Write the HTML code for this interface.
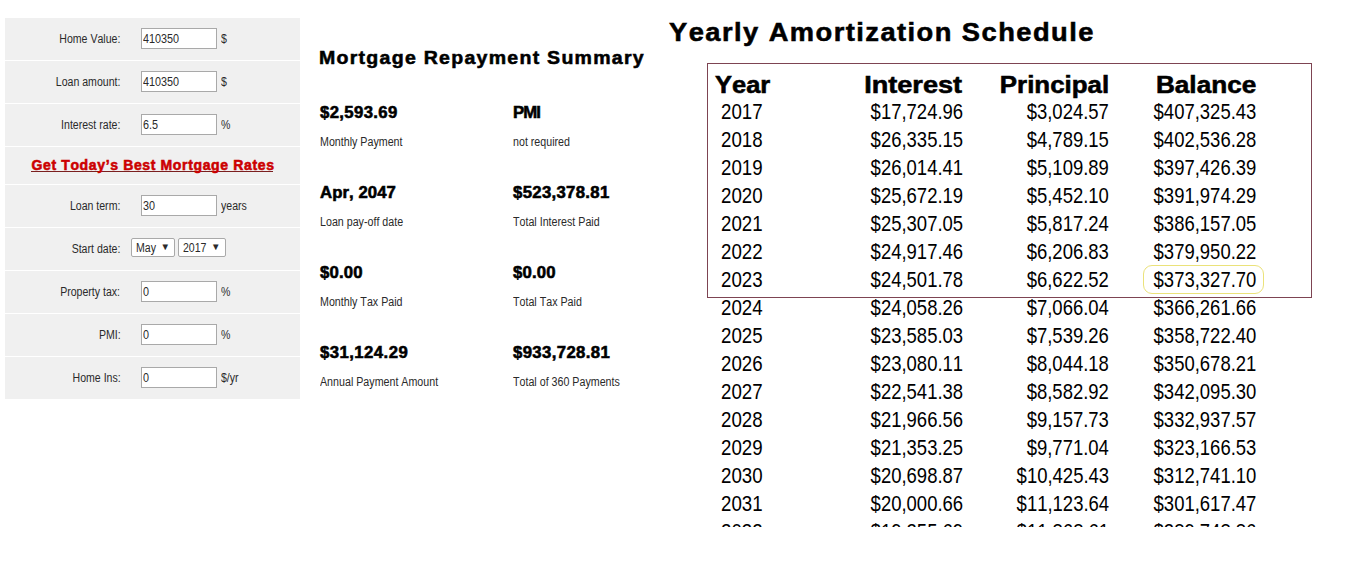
<!DOCTYPE html>
<html><head><meta charset="utf-8"><style>
html,body{margin:0;padding:0;background:#fff;width:1354px;height:564px;overflow:hidden;position:relative}
body{font-family:"Liberation Sans",sans-serif}
.t{position:absolute;white-space:nowrap;font-kerning:none;font-feature-settings:'kern' 0}
.b{-webkit-text-stroke:0.55px currentColor}
.panel{position:absolute;left:5px;top:18px;width:295px;height:381px;background:#f0f0f0}
.sep{position:absolute;left:5px;width:295px;height:1px;background:#fff}
.inp{position:absolute;left:141px;width:74px;height:19px;border:1px solid #a9a9a9;background:#fff}
.sel{position:absolute;height:17px;border:1px solid #a9a9a9;background:#fff;box-sizing:content-box;border-radius:2px}
.ul{position:absolute;height:1px;background:#7a1f1f}
.box{position:absolute;left:707px;top:63px;width:603px;height:233px;border:1px solid #7d4452}
.hl{position:absolute;left:1143px;top:265px;width:119px;height:27px;border:1px solid #ebe27a;border-radius:9px}
.clip{position:absolute;left:0;top:0;width:1354px;height:526px;overflow:hidden}
</style></head><body>
<div class="panel"></div><div class="sep" style="top:60px"></div><div class="sep" style="top:103px"></div><div class="sep" style="top:146px"></div><div class="sep" style="top:184px"></div><div class="sep" style="top:227px"></div><div class="sep" style="top:270px"></div><div class="sep" style="top:313px"></div><div class="sep" style="top:356px"></div><div class="inp" style="top:28px"></div><div class="inp" style="top:71px"></div><div class="inp" style="top:114px"></div><div class="inp" style="top:195px"></div><div class="inp" style="top:281px"></div><div class="inp" style="top:324px"></div><div class="inp" style="top:367px"></div><div class="sel" style="left:131px;top:238px;width:42px"></div><div class="sel" style="left:178px;top:238px;width:46px"></div><div class="ul" style="left:31px;top:171px;width:242px"></div>
<div class="box"></div>
<div class="hl"></div>
<div class="t" style="top:32.54px;font-size:12px;line-height:12px;color:#2a2a2a;right:1233.72px;transform:scaleX(0.8800);transform-origin:right top;">Home Value:</div>
<div class="t" style="top:32.54px;font-size:12px;line-height:12px;color:#2a2a2a;left:143.20px;transform:scaleX(0.9000);transform-origin:left top;">410350</div>
<div class="t" style="top:32.54px;font-size:12px;line-height:12px;color:#2a2a2a;left:221.00px;transform:scaleX(0.8800);transform-origin:left top;">$</div>
<div class="t" style="top:75.54px;font-size:12px;line-height:12px;color:#2a2a2a;right:1233.71px;transform:scaleX(0.8800);transform-origin:right top;">Loan amount:</div>
<div class="t" style="top:75.54px;font-size:12px;line-height:12px;color:#2a2a2a;left:143.20px;transform:scaleX(0.9000);transform-origin:left top;">410350</div>
<div class="t" style="top:75.54px;font-size:12px;line-height:12px;color:#2a2a2a;left:221.00px;transform:scaleX(0.8800);transform-origin:left top;">$</div>
<div class="t" style="top:118.54px;font-size:12px;line-height:12px;color:#2a2a2a;right:1233.73px;transform:scaleX(0.8800);transform-origin:right top;">Interest rate:</div>
<div class="t" style="top:118.54px;font-size:12px;line-height:12px;color:#2a2a2a;left:143.20px;transform:scaleX(0.9000);transform-origin:left top;">6.5</div>
<div class="t" style="top:118.54px;font-size:12px;line-height:12px;color:#2a2a2a;left:221.00px;transform:scaleX(0.8800);transform-origin:left top;">%</div>
<div class="t" style="top:199.54px;font-size:12px;line-height:12px;color:#2a2a2a;right:1233.73px;transform:scaleX(0.8800);transform-origin:right top;">Loan term:</div>
<div class="t" style="top:199.54px;font-size:12px;line-height:12px;color:#2a2a2a;left:143.20px;transform:scaleX(0.9000);transform-origin:left top;">30</div>
<div class="t" style="top:199.54px;font-size:12px;line-height:12px;color:#2a2a2a;left:221.00px;transform:scaleX(0.8800);transform-origin:left top;">years</div>
<div class="t" style="top:242.54px;font-size:12px;line-height:12px;color:#2a2a2a;right:1233.73px;transform:scaleX(0.8800);transform-origin:right top;">Start date:</div>
<div class="t" style="top:285.54px;font-size:12px;line-height:12px;color:#2a2a2a;right:1233.67px;transform:scaleX(0.8800);transform-origin:right top;">Property tax:</div>
<div class="t" style="top:285.54px;font-size:12px;line-height:12px;color:#2a2a2a;left:143.20px;transform:scaleX(0.9000);transform-origin:left top;">0</div>
<div class="t" style="top:285.54px;font-size:12px;line-height:12px;color:#2a2a2a;left:221.00px;transform:scaleX(0.8800);transform-origin:left top;">%</div>
<div class="t" style="top:328.54px;font-size:12px;line-height:12px;color:#2a2a2a;right:1233.73px;transform:scaleX(0.8800);transform-origin:right top;">PMI:</div>
<div class="t" style="top:328.54px;font-size:12px;line-height:12px;color:#2a2a2a;left:143.20px;transform:scaleX(0.9000);transform-origin:left top;">0</div>
<div class="t" style="top:328.54px;font-size:12px;line-height:12px;color:#2a2a2a;left:221.00px;transform:scaleX(0.8800);transform-origin:left top;">%</div>
<div class="t" style="top:371.54px;font-size:12px;line-height:12px;color:#2a2a2a;right:1233.71px;transform:scaleX(0.8800);transform-origin:right top;">Home Ins:</div>
<div class="t" style="top:371.54px;font-size:12px;line-height:12px;color:#2a2a2a;left:143.20px;transform:scaleX(0.9000);transform-origin:left top;">0</div>
<div class="t" style="top:371.54px;font-size:12px;line-height:12px;color:#2a2a2a;left:221.00px;transform:scaleX(0.8800);transform-origin:left top;">$/yr</div>
<div class="t" style="top:241.54px;font-size:12px;line-height:12px;color:#2a2a2a;left:136.00px;transform:scaleX(0.8800);transform-origin:left top;">May</div>
<div class="t" style="top:241.67px;font-size:9.6px;line-height:9.6px;color:#2a2a2a;left:160.60px;transform:scaleX(1.0000);transform-origin:left top;">▼</div>
<div class="t" style="top:241.54px;font-size:12px;line-height:12px;color:#2a2a2a;left:183.00px;transform:scaleX(0.8800);transform-origin:left top;">2017</div>
<div class="t" style="top:241.67px;font-size:9.6px;line-height:9.6px;color:#2a2a2a;left:210.90px;transform:scaleX(1.0000);transform-origin:left top;">▼</div>
<div class="t b" style="top:157.95px;font-size:14px;line-height:14px;color:#cc0000;font-weight:bold;left:31.45px;transform:scaleX(1.0000);transform-origin:left top;letter-spacing:0.640px;">Get Today’s Best Mortgage Rates</div>
<div class="t b" style="top:48.96px;font-size:18.6px;line-height:18.6px;color:#000;font-weight:bold;left:319.18px;transform:scaleX(1.0500);transform-origin:left top;letter-spacing:1.211px;">Mortgage Repayment Summary</div>
<div class="t b" style="top:104.73px;font-size:15.8px;line-height:15.8px;color:#000;font-weight:bold;left:320.38px;transform:scaleX(1.0600);transform-origin:left top;letter-spacing:0.332px;">$2,593.69</div>
<div class="t" style="top:136.14px;font-size:12px;line-height:12px;color:#2a2a2a;left:319.80px;transform:scaleX(0.8900);transform-origin:left top;">Monthly Payment</div>
<div class="t b" style="top:104.73px;font-size:15.8px;line-height:15.8px;color:#000;font-weight:bold;left:513.38px;transform:scaleX(1.0600);transform-origin:left top;letter-spacing:-0.826px;">PMI</div>
<div class="t" style="top:136.14px;font-size:12px;line-height:12px;color:#2a2a2a;left:512.80px;transform:scaleX(0.8900);transform-origin:left top;">not required</div>
<div class="t b" style="top:184.73px;font-size:15.8px;line-height:15.8px;color:#000;font-weight:bold;left:320.38px;transform:scaleX(1.0600);transform-origin:left top;letter-spacing:0.049px;">Apr, 2047</div>
<div class="t" style="top:216.14px;font-size:12px;line-height:12px;color:#2a2a2a;left:319.80px;transform:scaleX(0.8900);transform-origin:left top;">Loan pay-off date</div>
<div class="t b" style="top:184.73px;font-size:15.8px;line-height:15.8px;color:#000;font-weight:bold;left:513.38px;transform:scaleX(1.0600);transform-origin:left top;letter-spacing:0.298px;">$523,378.81</div>
<div class="t" style="top:216.14px;font-size:12px;line-height:12px;color:#2a2a2a;left:512.80px;transform:scaleX(0.8900);transform-origin:left top;">Total Interest Paid</div>
<div class="t b" style="top:264.73px;font-size:15.8px;line-height:15.8px;color:#000;font-weight:bold;left:320.38px;transform:scaleX(1.0600);transform-origin:left top;letter-spacing:0.157px;">$0.00</div>
<div class="t" style="top:296.14px;font-size:12px;line-height:12px;color:#2a2a2a;left:319.80px;transform:scaleX(0.8900);transform-origin:left top;">Monthly Tax Paid</div>
<div class="t b" style="top:264.73px;font-size:15.8px;line-height:15.8px;color:#000;font-weight:bold;left:513.38px;transform:scaleX(1.0600);transform-origin:left top;letter-spacing:0.157px;">$0.00</div>
<div class="t" style="top:296.14px;font-size:12px;line-height:12px;color:#2a2a2a;left:512.80px;transform:scaleX(0.8900);transform-origin:left top;">Total Tax Paid</div>
<div class="t b" style="top:344.73px;font-size:15.8px;line-height:15.8px;color:#000;font-weight:bold;left:320.38px;transform:scaleX(1.0600);transform-origin:left top;letter-spacing:0.408px;">$31,124.29</div>
<div class="t" style="top:376.14px;font-size:12px;line-height:12px;color:#2a2a2a;left:319.80px;transform:scaleX(0.8900);transform-origin:left top;">Annual Payment Amount</div>
<div class="t b" style="top:344.73px;font-size:15.8px;line-height:15.8px;color:#000;font-weight:bold;left:513.38px;transform:scaleX(1.0600);transform-origin:left top;letter-spacing:0.345px;">$933,728.81</div>
<div class="t" style="top:376.14px;font-size:12px;line-height:12px;color:#2a2a2a;left:512.80px;transform:scaleX(0.8900);transform-origin:left top;">Total of 360 Payments</div>
<div class="t b" style="top:18.99px;font-size:26px;line-height:26px;color:#000;font-weight:bold;left:668.78px;transform:scaleX(1.0500);transform-origin:left top;letter-spacing:1.376px;">Yearly Amortization Schedule</div>
<div class="t b" style="top:74.13px;font-size:23px;line-height:23px;color:#000;font-weight:bold;left:714.61px;transform:scaleX(1.1066);transform-origin:left top;">Year</div>
<div class="t b" style="top:74.13px;font-size:23px;line-height:23px;color:#000;font-weight:bold;right:392.16px;transform:scaleX(1.1781);transform-origin:right top;">Interest</div>
<div class="t b" style="top:74.13px;font-size:23px;line-height:23px;color:#000;font-weight:bold;right:245.07px;transform:scaleX(1.1253);transform-origin:right top;">Principal</div>
<div class="t b" style="top:74.13px;font-size:23px;line-height:23px;color:#000;font-weight:bold;right:98.00px;transform:scaleX(1.1366);transform-origin:right top;">Balance</div>
<div class="t" style="top:101.18px;font-size:22px;line-height:22px;color:#000;left:721.40px;transform:scaleX(0.8500);transform-origin:left top;">2017</div>
<div class="t" style="top:101.18px;font-size:22px;line-height:22px;color:#000;right:391.39px;transform:scaleX(0.8400);transform-origin:right top;">$17,724.96</div>
<div class="t" style="top:101.18px;font-size:22px;line-height:22px;color:#000;right:245.29px;transform:scaleX(0.8400);transform-origin:right top;">$3,024.57</div>
<div class="t" style="top:101.18px;font-size:22px;line-height:22px;color:#000;right:98.16px;transform:scaleX(0.8400);transform-origin:right top;">$407,325.43</div>
<div class="t" style="top:129.18px;font-size:22px;line-height:22px;color:#000;left:721.40px;transform:scaleX(0.8500);transform-origin:left top;">2018</div>
<div class="t" style="top:129.18px;font-size:22px;line-height:22px;color:#000;right:391.39px;transform:scaleX(0.8400);transform-origin:right top;">$26,335.15</div>
<div class="t" style="top:129.18px;font-size:22px;line-height:22px;color:#000;right:245.29px;transform:scaleX(0.8400);transform-origin:right top;">$4,789.15</div>
<div class="t" style="top:129.18px;font-size:22px;line-height:22px;color:#000;right:98.16px;transform:scaleX(0.8400);transform-origin:right top;">$402,536.28</div>
<div class="t" style="top:157.18px;font-size:22px;line-height:22px;color:#000;left:721.40px;transform:scaleX(0.8500);transform-origin:left top;">2019</div>
<div class="t" style="top:157.18px;font-size:22px;line-height:22px;color:#000;right:391.39px;transform:scaleX(0.8400);transform-origin:right top;">$26,014.41</div>
<div class="t" style="top:157.18px;font-size:22px;line-height:22px;color:#000;right:245.29px;transform:scaleX(0.8400);transform-origin:right top;">$5,109.89</div>
<div class="t" style="top:157.18px;font-size:22px;line-height:22px;color:#000;right:98.16px;transform:scaleX(0.8400);transform-origin:right top;">$397,426.39</div>
<div class="t" style="top:185.18px;font-size:22px;line-height:22px;color:#000;left:721.40px;transform:scaleX(0.8500);transform-origin:left top;">2020</div>
<div class="t" style="top:185.18px;font-size:22px;line-height:22px;color:#000;right:391.39px;transform:scaleX(0.8400);transform-origin:right top;">$25,672.19</div>
<div class="t" style="top:185.18px;font-size:22px;line-height:22px;color:#000;right:245.29px;transform:scaleX(0.8400);transform-origin:right top;">$5,452.10</div>
<div class="t" style="top:185.18px;font-size:22px;line-height:22px;color:#000;right:98.16px;transform:scaleX(0.8400);transform-origin:right top;">$391,974.29</div>
<div class="t" style="top:213.18px;font-size:22px;line-height:22px;color:#000;left:721.40px;transform:scaleX(0.8500);transform-origin:left top;">2021</div>
<div class="t" style="top:213.18px;font-size:22px;line-height:22px;color:#000;right:391.39px;transform:scaleX(0.8400);transform-origin:right top;">$25,307.05</div>
<div class="t" style="top:213.18px;font-size:22px;line-height:22px;color:#000;right:245.29px;transform:scaleX(0.8400);transform-origin:right top;">$5,817.24</div>
<div class="t" style="top:213.18px;font-size:22px;line-height:22px;color:#000;right:98.16px;transform:scaleX(0.8400);transform-origin:right top;">$386,157.05</div>
<div class="t" style="top:241.18px;font-size:22px;line-height:22px;color:#000;left:721.40px;transform:scaleX(0.8500);transform-origin:left top;">2022</div>
<div class="t" style="top:241.18px;font-size:22px;line-height:22px;color:#000;right:391.39px;transform:scaleX(0.8400);transform-origin:right top;">$24,917.46</div>
<div class="t" style="top:241.18px;font-size:22px;line-height:22px;color:#000;right:245.29px;transform:scaleX(0.8400);transform-origin:right top;">$6,206.83</div>
<div class="t" style="top:241.18px;font-size:22px;line-height:22px;color:#000;right:98.16px;transform:scaleX(0.8400);transform-origin:right top;">$379,950.22</div>
<div class="t" style="top:269.18px;font-size:22px;line-height:22px;color:#000;left:721.40px;transform:scaleX(0.8500);transform-origin:left top;">2023</div>
<div class="t" style="top:269.18px;font-size:22px;line-height:22px;color:#000;right:391.39px;transform:scaleX(0.8400);transform-origin:right top;">$24,501.78</div>
<div class="t" style="top:269.18px;font-size:22px;line-height:22px;color:#000;right:245.29px;transform:scaleX(0.8400);transform-origin:right top;">$6,622.52</div>
<div class="t" style="top:269.18px;font-size:22px;line-height:22px;color:#000;right:98.16px;transform:scaleX(0.8400);transform-origin:right top;">$373,327.70</div>
<div class="t" style="top:297.18px;font-size:22px;line-height:22px;color:#000;left:721.40px;transform:scaleX(0.8500);transform-origin:left top;">2024</div>
<div class="t" style="top:297.18px;font-size:22px;line-height:22px;color:#000;right:391.39px;transform:scaleX(0.8400);transform-origin:right top;">$24,058.26</div>
<div class="t" style="top:297.18px;font-size:22px;line-height:22px;color:#000;right:245.29px;transform:scaleX(0.8400);transform-origin:right top;">$7,066.04</div>
<div class="t" style="top:297.18px;font-size:22px;line-height:22px;color:#000;right:98.16px;transform:scaleX(0.8400);transform-origin:right top;">$366,261.66</div>
<div class="t" style="top:325.18px;font-size:22px;line-height:22px;color:#000;left:721.40px;transform:scaleX(0.8500);transform-origin:left top;">2025</div>
<div class="t" style="top:325.18px;font-size:22px;line-height:22px;color:#000;right:391.39px;transform:scaleX(0.8400);transform-origin:right top;">$23,585.03</div>
<div class="t" style="top:325.18px;font-size:22px;line-height:22px;color:#000;right:245.29px;transform:scaleX(0.8400);transform-origin:right top;">$7,539.26</div>
<div class="t" style="top:325.18px;font-size:22px;line-height:22px;color:#000;right:98.16px;transform:scaleX(0.8400);transform-origin:right top;">$358,722.40</div>
<div class="t" style="top:353.18px;font-size:22px;line-height:22px;color:#000;left:721.40px;transform:scaleX(0.8500);transform-origin:left top;">2026</div>
<div class="t" style="top:353.18px;font-size:22px;line-height:22px;color:#000;right:391.39px;transform:scaleX(0.8400);transform-origin:right top;">$23,080.11</div>
<div class="t" style="top:353.18px;font-size:22px;line-height:22px;color:#000;right:245.29px;transform:scaleX(0.8400);transform-origin:right top;">$8,044.18</div>
<div class="t" style="top:353.18px;font-size:22px;line-height:22px;color:#000;right:98.16px;transform:scaleX(0.8400);transform-origin:right top;">$350,678.21</div>
<div class="t" style="top:381.18px;font-size:22px;line-height:22px;color:#000;left:721.40px;transform:scaleX(0.8500);transform-origin:left top;">2027</div>
<div class="t" style="top:381.18px;font-size:22px;line-height:22px;color:#000;right:391.39px;transform:scaleX(0.8400);transform-origin:right top;">$22,541.38</div>
<div class="t" style="top:381.18px;font-size:22px;line-height:22px;color:#000;right:245.29px;transform:scaleX(0.8400);transform-origin:right top;">$8,582.92</div>
<div class="t" style="top:381.18px;font-size:22px;line-height:22px;color:#000;right:98.16px;transform:scaleX(0.8400);transform-origin:right top;">$342,095.30</div>
<div class="t" style="top:409.18px;font-size:22px;line-height:22px;color:#000;left:721.40px;transform:scaleX(0.8500);transform-origin:left top;">2028</div>
<div class="t" style="top:409.18px;font-size:22px;line-height:22px;color:#000;right:391.39px;transform:scaleX(0.8400);transform-origin:right top;">$21,966.56</div>
<div class="t" style="top:409.18px;font-size:22px;line-height:22px;color:#000;right:245.29px;transform:scaleX(0.8400);transform-origin:right top;">$9,157.73</div>
<div class="t" style="top:409.18px;font-size:22px;line-height:22px;color:#000;right:98.16px;transform:scaleX(0.8400);transform-origin:right top;">$332,937.57</div>
<div class="t" style="top:437.18px;font-size:22px;line-height:22px;color:#000;left:721.40px;transform:scaleX(0.8500);transform-origin:left top;">2029</div>
<div class="t" style="top:437.18px;font-size:22px;line-height:22px;color:#000;right:391.39px;transform:scaleX(0.8400);transform-origin:right top;">$21,353.25</div>
<div class="t" style="top:437.18px;font-size:22px;line-height:22px;color:#000;right:245.29px;transform:scaleX(0.8400);transform-origin:right top;">$9,771.04</div>
<div class="t" style="top:437.18px;font-size:22px;line-height:22px;color:#000;right:98.16px;transform:scaleX(0.8400);transform-origin:right top;">$323,166.53</div>
<div class="t" style="top:465.18px;font-size:22px;line-height:22px;color:#000;left:721.40px;transform:scaleX(0.8500);transform-origin:left top;">2030</div>
<div class="t" style="top:465.18px;font-size:22px;line-height:22px;color:#000;right:391.39px;transform:scaleX(0.8400);transform-origin:right top;">$20,698.87</div>
<div class="t" style="top:465.18px;font-size:22px;line-height:22px;color:#000;right:245.29px;transform:scaleX(0.8400);transform-origin:right top;">$10,425.43</div>
<div class="t" style="top:465.18px;font-size:22px;line-height:22px;color:#000;right:98.16px;transform:scaleX(0.8400);transform-origin:right top;">$312,741.10</div>
<div class="t" style="top:493.18px;font-size:22px;line-height:22px;color:#000;left:721.40px;transform:scaleX(0.8500);transform-origin:left top;">2031</div>
<div class="t" style="top:493.18px;font-size:22px;line-height:22px;color:#000;right:391.39px;transform:scaleX(0.8400);transform-origin:right top;">$20,000.66</div>
<div class="t" style="top:493.18px;font-size:22px;line-height:22px;color:#000;right:245.29px;transform:scaleX(0.8400);transform-origin:right top;">$11,123.64</div>
<div class="t" style="top:493.18px;font-size:22px;line-height:22px;color:#000;right:98.16px;transform:scaleX(0.8400);transform-origin:right top;">$301,617.47</div>
<div class="t" style="top:521.18px;font-size:22px;line-height:22px;color:#000;left:721.40px;transform:scaleX(0.8500);transform-origin:left top;">2032</div>
<div class="t" style="top:521.18px;font-size:22px;line-height:22px;color:#000;right:391.39px;transform:scaleX(0.8400);transform-origin:right top;">$19,255.69</div>
<div class="t" style="top:521.18px;font-size:22px;line-height:22px;color:#000;right:245.29px;transform:scaleX(0.8400);transform-origin:right top;">$11,868.61</div>
<div class="t" style="top:521.18px;font-size:22px;line-height:22px;color:#000;right:98.16px;transform:scaleX(0.8400);transform-origin:right top;">$289,748.86</div>
<div style="position:absolute;left:660px;top:527px;width:694px;height:37px;background:#fff"></div>
</body></html>
